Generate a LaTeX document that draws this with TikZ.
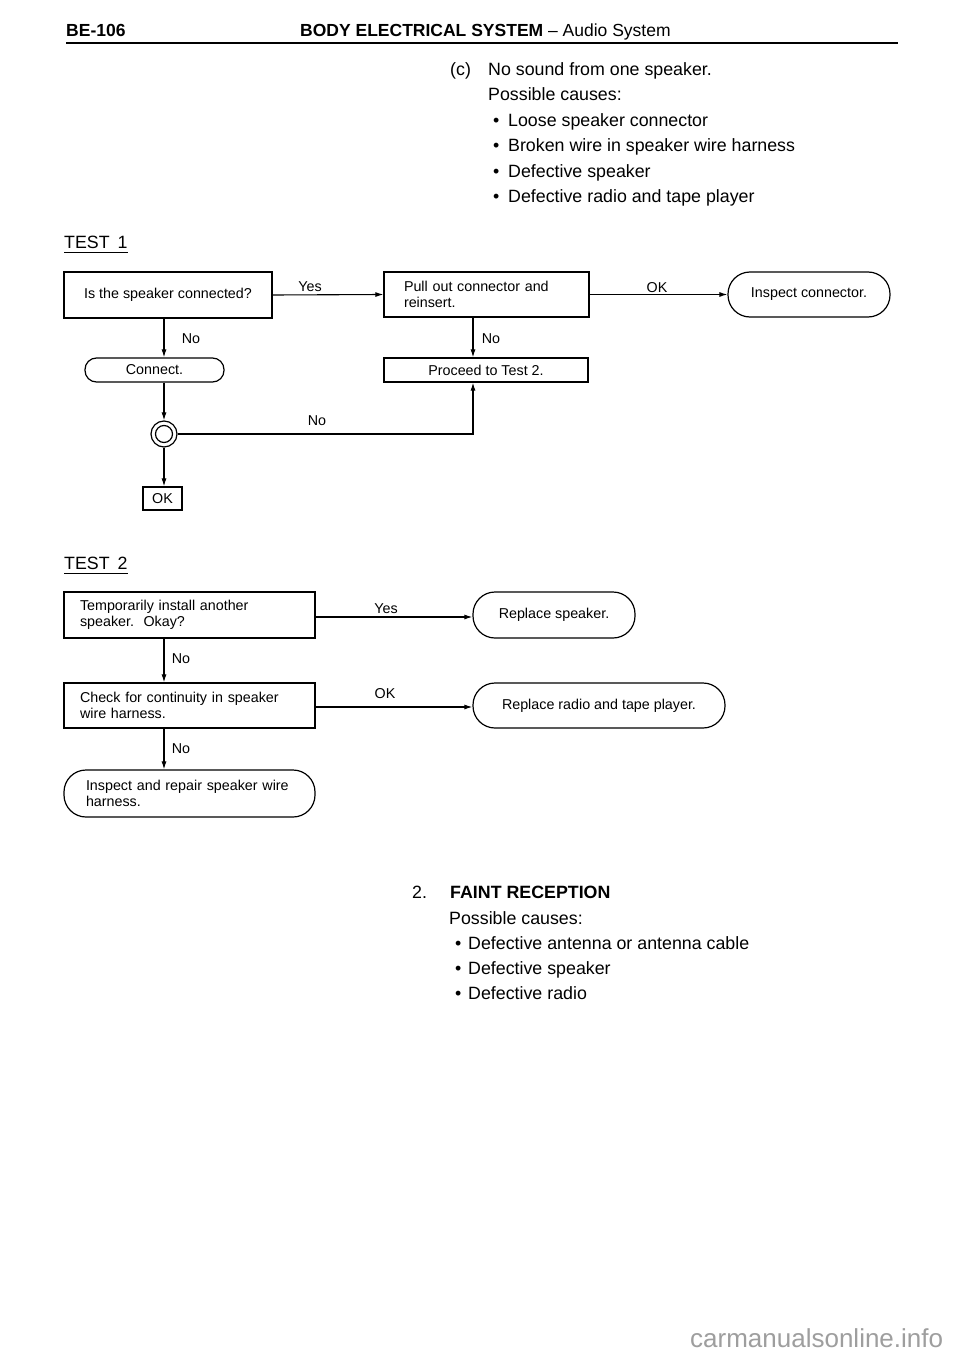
\documentclass[tikz,border=0pt]{standalone}
\usepackage{fontspec}
\setmainfont{Liberation Sans}
\newfontfamily\hdrfont{Liberation Sans}
\usetikzlibrary{arrows.meta}
\begin{document}
\begin{tikzpicture}[x=1pt,y=-1pt,
  body/.style={font=\fontsize{17.8}{20}\selectfont, inner sep=0pt, anchor=base west},
  flab/.style={font=\fontsize{14.3}{16}\selectfont, inner sep=0pt, anchor=base},
  box/.style={draw, line width=1.2pt, font=\fontsize{14.3}{15.5}\selectfont, inner sep=0pt, align=center},
  term/.style={box, rounded corners=#1},
  lbox/.style={box, align=left, text width=#1},
  arr/.style={line width=1.1pt, -{Latex[length=8pt,width=5pt]}},
  ln/.style={line width=1.2pt},
  hdr/.style={font=\hdrfont\fontsize{17.5}{19}\selectfont, inner sep=0pt, anchor=base west}]
\fill[white] (0,0) rectangle (960,1356);
\useasboundingbox (0,0) rectangle (960,1356);

% header
\node[hdr] (pg) at (66,37) {\bfseries BE-106};
\node[hdr] (ttl) at (300,37) {\textbf{BODY ELECTRICAL SYSTEM} \textendash{} Audio System};
\draw[line width=2.5pt] (66,43) -- (898,43);

% top text
\node[body] (cc) at (450,76) {(c)};
\node[body] (c1t) at (488,76) {No sound from one speaker.};
\node[body] (c1p) at (488,101) {Possible causes:};
\node[body] (c1a) at (493,127) {\makebox[15pt][l]{\textbullet}Loose speaker connector};
\node[body] (c1b) at (493,152) {\makebox[15pt][l]{\textbullet}Broken wire in speaker wire harness};
\node[body] (c1c) at (493,178) {\makebox[15pt][l]{\textbullet}Defective speaker};
\node[body] (c1d) at (493,203) {\makebox[15pt][l]{\textbullet}Defective radio and tape player};

% TEST 1
\node[body] (tst1) at (64,248) {TEST\hspace{0.45em}1};
\draw[line width=1.2pt] (tst1.south west |- 0,252.5) -- (tst1.south east |- 0,252.5);

\coordinate (col1) at (164,0);
\coordinate (col2) at (473,0);

\node[box, minimum width=208pt, minimum height=46pt] (b1) at (168,295) {Is the speaker connected?};
\node[lbox=165pt, inner xsep=20pt, minimum height=45pt] (b2) at (486.5,294.5) {Pull out connector and\\reinsert.};
\node[term=22pt, minimum width=162pt, minimum height=45pt] (t1) at (809,294.5) {Inspect connector.};
\node[term=11.5pt, minimum width=139pt, minimum height=24pt] (t2) at (154.5,370) {Connect.};
\node[box, minimum width=204pt, minimum height=24pt] (b3) at (486,370) {Proceed to Test 2.};
\node[circle, draw, line width=1.2pt, minimum size=26pt, inner sep=0pt] (cj) at (164,434) {};
\draw[ln] (cj.center) circle (8.5);
\node[box, minimum width=39pt, minimum height=23pt] (ok) at (162.5,498.5) {OK};

\draw[arr] (b1.east) -- (b2.west);
\draw[arr] (b2.east) -- (t1.west);
\draw[arr] (b1.south -| col1) -- (t2.north -| col1);
\draw[arr] (b2.south -| col2) -- (b3.north -| col2);
\draw[arr] (t2.south -| col1) -- (cj.north);
\draw[arr] (cj.south) -- (ok.north -| cj);
\draw[arr] (cj.east) -| (b3.south -| col2);

\node[flab] (l1) at (310,291) {Yes};
\node[flab] (l2) at (657,292) {OK};
\node[flab] (l3) at (191,343) {No};
\node[flab] (l4) at (491,343) {No};
\node[flab] (l5) at (317,425) {No};

% TEST 2
\node[body] (tst2) at (64,569) {TEST\hspace{0.45em}2};
\draw[line width=1.2pt] (tst2.south west |- 0,573.5) -- (tst2.south east |- 0,573.5);

\node[lbox=219pt, inner xsep=16pt, minimum height=46pt] (b4) at (189.5,615) {Temporarily install another\\speaker.\ \ Okay?};
\node[term=22pt, minimum width=162pt, minimum height=46pt] (t3) at (554,615) {Replace speaker.};
\node[lbox=219pt, inner xsep=16pt, minimum height=45pt] (b5) at (189.5,705.5) {Check for continuity in speaker\\wire harness.};
\node[term=22pt, minimum width=252pt, minimum height=45pt] (t4) at (599,705.5) {Replace radio and tape player.};
\node[term=22pt, align=left, text width=207pt, inner xsep=22pt, minimum height=47pt] (t5) at (189.5,793.5) {Inspect and repair speaker wire\\harness.};

\draw[arr] ([yshift=-2pt]b4.east) -- ([yshift=-2pt]t3.west);
\draw[arr] ([yshift=-1.5pt]b5.east) -- ([yshift=-1.5pt]t4.west);
\draw[arr] (b4.south -| col1) -- (b5.north -| col1);
\draw[arr] (b5.south -| col1) -- (t5.north -| col1);

\node[flab] (l6) at (386,613) {Yes};
\node[flab] (l7) at (181,663) {No};
\node[flab] (l8) at (385,698) {OK};
\node[flab] (l9) at (181,753) {No};

% bottom text
\node[body] (n2) at (412,898) {2.};
\node[body] (n2t) at (450,898) {\bfseries FAINT RECEPTION};
\node[body] (n2p) at (449,924) {Possible causes:};
\node[body] (n2a) at (455,949) {\makebox[13pt][l]{\textbullet}Defective antenna or antenna cable};
\node[body] (n2b) at (455,974) {\makebox[13pt][l]{\textbullet}Defective speaker};
\node[body] (n2c) at (455,999) {\makebox[13pt][l]{\textbullet}Defective radio};

% watermark
\node[anchor=base west, font=\fontsize{26}{28}\selectfont, text=black!38, inner sep=0pt] (wm) at (690,1347) {carmanualsonline.info};
\end{tikzpicture}
\end{document}
